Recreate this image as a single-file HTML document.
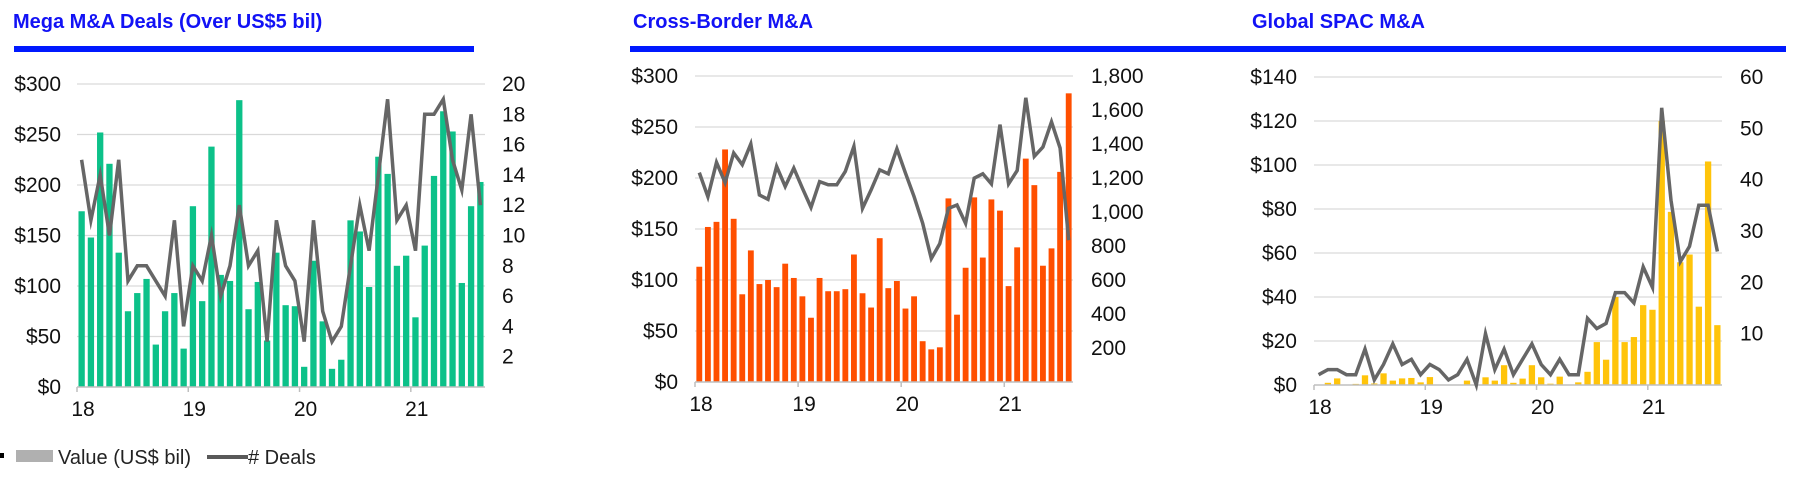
<!DOCTYPE html>
<html><head><meta charset="utf-8">
<style>
html,body{margin:0;padding:0;background:#fff;width:1800px;height:489px;overflow:hidden;font-family:"Liberation Sans",Arial,sans-serif;}
svg text{font-family:"Liberation Sans",Arial,sans-serif;}
</style></head>
<body>
<svg id="root" width="1800" height="489" viewBox="0 0 1800 489" xmlns="http://www.w3.org/2000/svg">
  <text x="13" y="28" font-size="20" font-weight="bold" fill="#1212f5">Mega M&amp;A Deals (Over US$5 bil)</text>
  <rect x="14" y="46" width="460" height="6" fill="#0019ff"/>
  <text x="633" y="28" font-size="20" font-weight="bold" fill="#1212f5">Cross-Border M&amp;A</text>
  <rect x="630" y="46" width="713" height="6" fill="#0019ff"/>
  <text x="1252" y="28" font-size="20" font-weight="bold" fill="#1212f5">Global SPAC M&amp;A</text>
  <rect x="1255" y="46" width="531" height="6" fill="#0019ff"/>
  <g id="c1"></g>
  <g id="c2"></g>
  <g id="c3"></g>
  <g>
    <rect x="0" y="453" width="4" height="5" fill="#000"/>
    <rect x="16" y="450" width="37" height="12" fill="#b0b0b0"/>
    <text x="58" y="464" font-size="20" fill="#222">Value (US$ bil)</text>
    <line x1="207" y1="457" x2="248" y2="457" stroke="#595959" stroke-width="4"/>
    <text x="248" y="464" font-size="20" fill="#222"># Deals</text>
  </g>
</svg>
<script>
const yearLabels = ["18","19","20","21"];
const megaValues = [174,148,252,221,133,75,93,107,42,75,93,38,179,85,238,111,105,284,77,104,46,133,81,80,20,125,65,18,27,165,154,99,228,211,120,130,69,140,209,273,253,103,179,203];
const megaDeals = [15,11,14,10,15,7,8,8,7,6,11,4,8,7,10,6,8,12,8,9,3,11,8,7,3,11,5,3,4,8,12,9,14,19,11,12,9,18,18,19,15,13,18,12];
const megaLeftTicks = [0,50,100,150,200,250,300];
const megaRightTicks = [2,4,6,8,10,12,14,16,18,20];
const crossValues = [113,152,157,228,160,86,129,96,100,93,116,102,84,63,102,89,89,91,125,87,73,141,92,99,72,84,40,32,34,180,66,112,181,122,179,168,94,132,219,193,114,131,206,283];
const crossDeals = [1232,1090,1292,1173,1347,1278,1400,1100,1075,1268,1150,1258,1140,1027,1179,1160,1160,1238,1386,1021,1130,1248,1225,1372,1228,1090,933,726,814,1021,1041,933,1199,1225,1165,1514,1165,1244,1672,1327,1382,1530,1376,834];
const crossLeftTicks = [0,50,100,150,200,250,300];
const crossRightTicks = [200,400,600,800,1000,1200,1400,1600,1800];
const spacValues = [0,1,3,0,0.5,4.4,0.7,5.3,2,3,3.2,1.2,3.6,0,0,0,2,0,3.5,2,9,1,2.9,9,3.5,0.6,3.8,0,1.2,6,19.5,11.5,40,19.5,21.8,36.3,34.2,120,78.7,55.8,59.3,35.6,101.6,27.2];
const spacDeals = [2,3,3,2,2,7,1,4,8,4,5,2,4,3,1,2,5,0,10,3,7,2,5,8,4,2,5,2,2,13,11,12,18,18,16,23,19,54,36,24,27,35,35,26];
const spacLeftTicks = [0,20,40,60,80,100,120,140];
const spacRightTicks = [10,20,30,40,50,60];

const NS = "http://www.w3.org/2000/svg";
function mk(tag, attrs, parent){
  const e = document.createElementNS(NS, tag);
  for (const k in attrs) e.setAttribute(k, attrs[k]);
  parent.appendChild(e);
  return e;
}
function drawChart(g, cfg, values, deals, leftTicks, rightTicks){
  const n = values.length;
  const step = (cfg.x1 - cfg.x0) / n;
  const xAt = i => cfg.x0 + step * (i + 0.5);
  const yL = v => cfg.yb - (v / cfg.lmax) * (cfg.yb - cfg.yt);
  const yR = v => cfg.yb - (v / cfg.rmax) * (cfg.yb - cfg.yt);
  leftTicks.forEach(t => {
    if (t > 0) {
      const gl = mk("line", {x1: cfg.x0, x2: cfg.x1, y1: yL(t), y2: yL(t), stroke: "#d9d9d9", "stroke-width": 1.3}, g);
      
      
    }
    const tx = mk("text", {x: cfg.lx, y: yL(t) + 7, "font-size": 21, "text-anchor": "end", fill: "#111"}, g);
    tx.textContent = cfg.prefix + t;
    
    
  });
  rightTicks.forEach(t => {
    const tx = mk("text", {x: cfg.rx, y: yR(t) + 7, "font-size": 21, fill: "#111"}, g);
    tx.textContent = t.toLocaleString("en-US");
    
    
  });
  values.forEach((v, i) => {
    const bw = step * 0.68;
    const b = mk("rect", {x: xAt(i) - bw / 2, y: yL(v), width: bw, height: cfg.yb - yL(v), fill: cfg.color}, g);
    
    
  });
  const ax = mk("line", {x1: cfg.x0, x2: cfg.x1, y1: cfg.yb, y2: cfg.yb, stroke: "#bfbfbf", "stroke-width": 1.5}, g);
  
  
  yearLabels.forEach((lab, k) => {
    const tx0 = cfg.x0 + step * 12 * k;
    const tk = mk("line", {x1: tx0, x2: tx0, y1: cfg.yb, y2: cfg.yb + 5, stroke: "#bfbfbf", "stroke-width": 1.5}, g);
    
    
    const tx = mk("text", {x: tx0 + 6, y: cfg.yb + 29, "font-size": 21, "text-anchor": "middle", fill: "#111"}, g);
    tx.textContent = lab;
    
    
  });
  const pts = deals.map((d, i) => xAt(i).toFixed(1) + "," + yR(d).toFixed(1)).join(" ");
  const pl = mk("polyline", {points: pts, fill: "none", stroke: "#666", "stroke-width": 3.5, "stroke-linejoin": "miter", "stroke-miterlimit": 6}, g);
  
  
}
drawChart(document.getElementById("c1"), {x0:77, x1:485, yt:84, yb:387, lmax:300, rmax:20, lx:61, rx:502, prefix:"$", color:"#0cc189"}, megaValues, megaDeals, megaLeftTicks, megaRightTicks);
drawChart(document.getElementById("c2"), {x0:695, x1:1073, yt:76, yb:382, lmax:300, rmax:1800, lx:678, rx:1091, prefix:"$", color:"#ff4f00"}, crossValues, crossDeals, crossLeftTicks, crossRightTicks);
drawChart(document.getElementById("c3"), {x0:1314, x1:1722, yt:77, yb:385, lmax:140, rmax:60, lx:1297, rx:1740, prefix:"$", color:"#ffc40a"}, spacValues, spacDeals, spacLeftTicks, spacRightTicks);
</script>
</body></html>
